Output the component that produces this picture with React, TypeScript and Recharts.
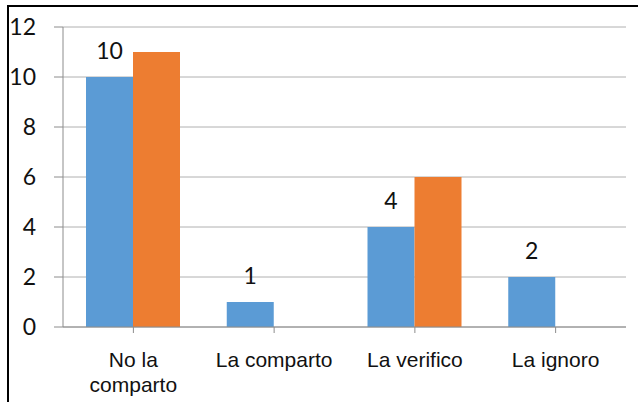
import { BarChart, Bar, XAxis, YAxis, CartesianGrid, LabelList } from "recharts";

const categories = ["No la\ncomparto", "La comparto", "La verifico", "La ignoro"];
const blueValues = [10, 1, 4, 2];
const orangeValues: (number | null)[] = [11, null, 6, null];
const yTicks = [0, 2, 4, 6, 8, 10, 12];

const data = categories.map((name, i) => ({
  name,
  blue: blueValues[i],
  orange: orangeValues[i],
}));

const AXIS = "#8c8c8c";
const GRID = "#b0b0b0";

function CategoryTick(props: any) {
  const { x, y, payload } = props;
  const lines = String(payload.value).split("\n");
  return (
    <text
      x={x}
      y={y}
      textAnchor="middle"
      fill="#111"
      style={{ fontFamily: "'Liberation Sans', Arial, sans-serif", fontSize: 21 }}
    >
      {lines.map((line, i) => (
        <tspan key={i} x={x} dy={i === 0 ? 26 : 24.5}>
          {line}
        </tspan>
      ))}
    </text>
  );
}

export default function App() {
  return (
    <div style={{ position: "absolute", left: 0, top: 0, width: 638, height: 402, background: "#fff" }}>
      <div
        style={{
          position: "absolute",
          left: 7,
          top: 5,
          width: 631,
          height: 397,
          borderTop: "2px solid #000",
          borderLeft: "2px solid #000",
          boxSizing: "border-box",
        }}
      />
      <div style={{ position: "absolute", left: 0, top: 0 }}>
        <BarChart
          width={638}
          height={402}
          data={data}
          margin={{ top: 27, right: 12, left: 13, bottom: 15 }}
          barGap={0}
          barSize={47}
        >
          <CartesianGrid vertical={false} stroke={GRID} strokeWidth={1} />
          <XAxis
            dataKey="name"
            height={60}
            tick={<CategoryTick />}
            tickSize={6}
            tickMargin={8}
            interval={0}
            axisLine={{ stroke: AXIS }}
            tickLine={{ stroke: AXIS }}
          />
          <YAxis
            width={50}
            domain={[0, 12]}
            ticks={yTicks}
            tickSize={9}
            tickMargin={18}
            axisLine={{ stroke: AXIS }}
            tickLine={{ stroke: AXIS }}
            tick={{ fill: "#111", fontFamily: "Lato, sans-serif", fontSize: 23 }}
          />
          <Bar dataKey="blue" fill="#5b9bd5" isAnimationActive={false}>
            <LabelList
              dataKey="blue"
              position="top"
              offset={18}
              style={{ fill: "#111", fontFamily: "Lato, sans-serif", fontSize: 23 }}
            />
          </Bar>
          <Bar dataKey="orange" fill="#ed7d31" isAnimationActive={false} />
        </BarChart>
      </div>
    </div>
  );
}
